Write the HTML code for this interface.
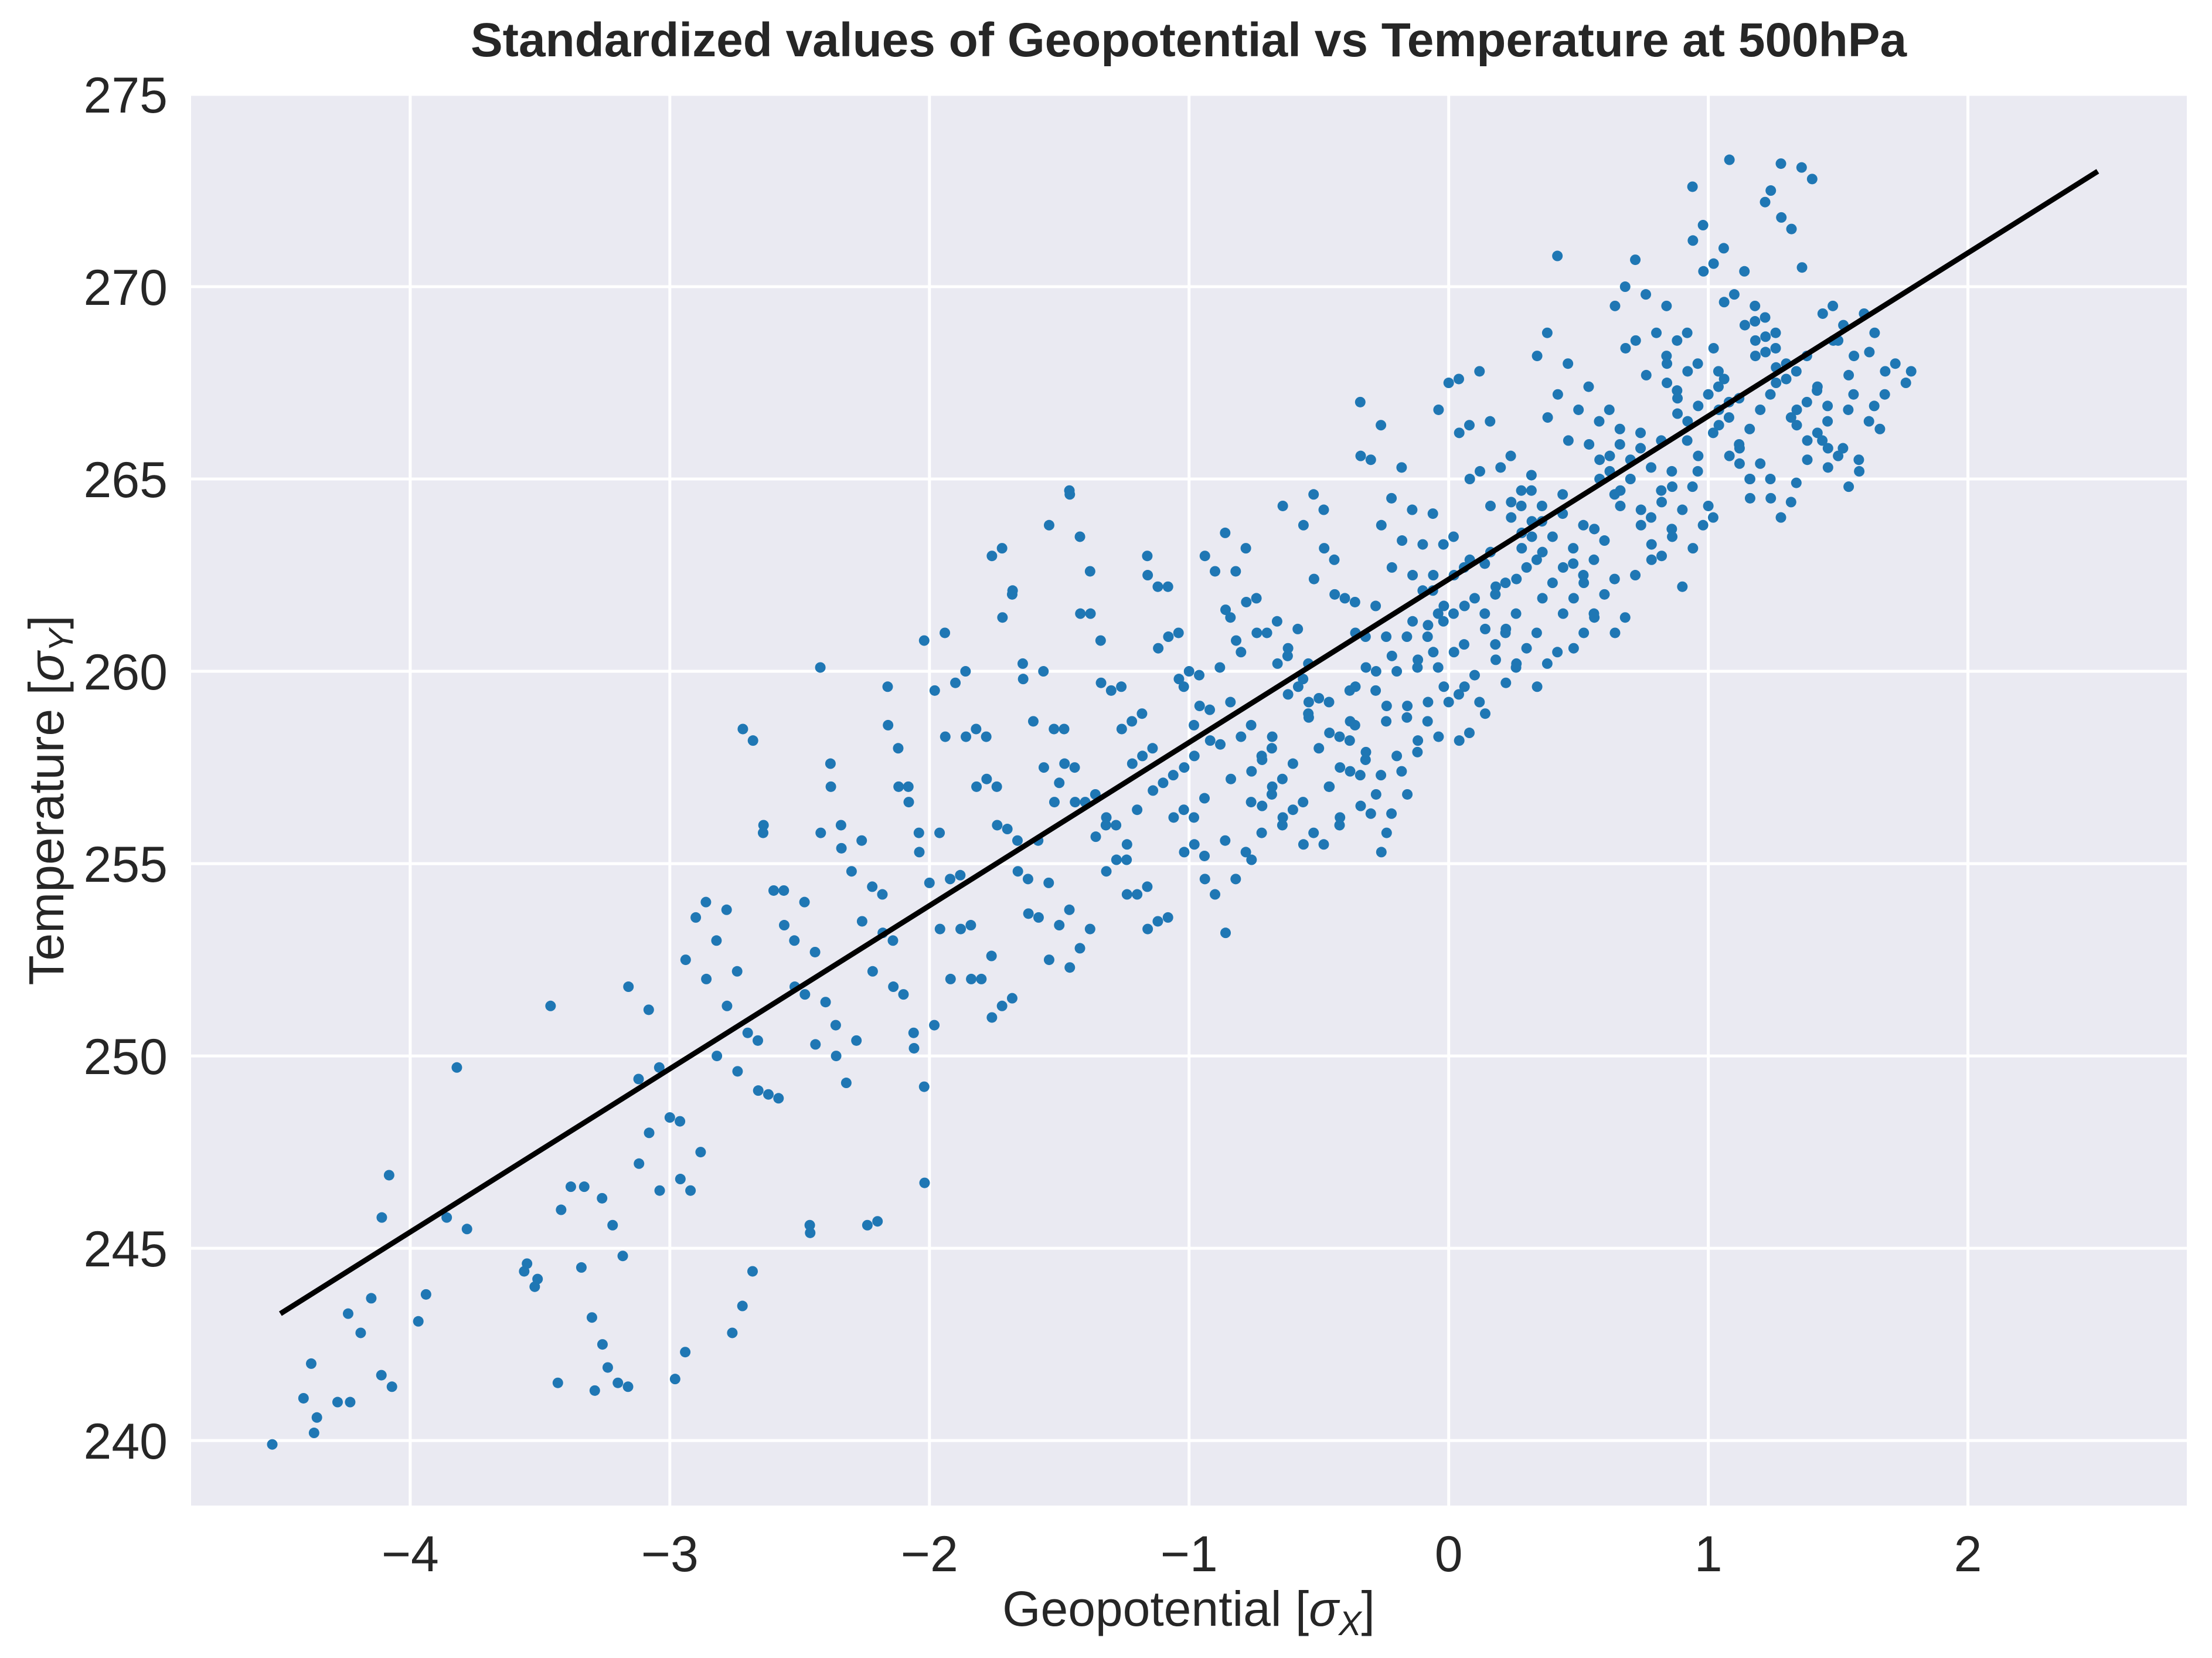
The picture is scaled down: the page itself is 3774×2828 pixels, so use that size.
<!DOCTYPE html>
<html><head><meta charset="utf-8"><style>
html,body{margin:0;padding:0;background:#fff;}
svg{display:block;font-family:"Liberation Sans",Arial,sans-serif;}
</style></head><body>
<svg id="chart" width="3774" height="2828" viewBox="0 0 3774 2828" xmlns="http://www.w3.org/2000/svg">
<rect x="326" y="161" width="3405" height="2407" fill="#eaeaf2"/>
<g id="grid"></g>
<g id="points"></g>
<g id="fit"></g>
<g id="ticks"></g>
<text x="2028" y="96" text-anchor="middle" font-size="82" font-weight="bold" fill="#262626">Standardized values of Geopotential vs Temperature at 500hPa</text>
<text x="2028" y="2773" text-anchor="middle" font-size="84" fill="#262626">Geopotential [<tspan font-style="italic">σ</tspan><tspan font-style="italic" font-size="58" dy="16">X</tspan><tspan dy="-16">]</tspan></text>
<text transform="translate(108,1365) rotate(-90)" text-anchor="middle" font-size="84" fill="#262626">Temperature  [<tspan font-style="italic">σ</tspan><tspan font-style="italic" font-size="58" dy="16">Y</tspan><tspan dy="-16">]</tspan></text>
</svg>
<script>
const xTicks=[-4,-3,-2,-1,0,1,2];
const xTickLabels=["\u22124","\u22123","\u22122","\u22121","0","1","2"];
const yTicks=[240,245,250,255,260,265,270,275];
const yTickLabels=["240","245","250","255","260","265","270","275"];
const fitX=[-4.5,2.5];
const fitY=[243.3,273.0];
const colX=[1.7,1.6,1.5,1.4,1.3,1.2,1.1,1.0,0.9,0.8,0.7,0.6,0.5,0.4,0.3,0.2,0.1,0.0,-0.1,-0.2,-0.3,-0.4,-0.5,-0.6,-0.7,-0.8,-0.9,-1.0,-1.1,-1.2,-1.3,-1.4,-1.5,-1.6,-1.7,-1.8,-1.9,-2.0,-2.1,-2.2,-2.3,-2.4,-2.5,-2.6,-2.7,-2.8,-2.9,-3.0,-3.1,-3.2,-3.3,-3.35,-3.5,-3.55,-3.7,-3.8,-3.9,-4.0,-4.05,-4.15,-4.3,-4.35,-4.4,-4.45];
const colY=[
[266.5,267.5,268,267.2,266.9,267.8],
[265.5,266.8,267.8,268.8,269.3,267.2,265.8,266.3,268.3],
[264.8,265.6,266.5,267.3,268.2,269,269.5,266,265.2,267.7,268.6,266.9],
[264.4,265.3,266.2,267,267.8,268.6,269.3,272.8,273.1,266.6,265.8,267.4,268.2,264.9],
[264,265,266,266.8,267.6,268.4,269.2,270.5,271.5,273.2,267.2,265.5,266.4,268,268.8,272.2],
[264.5,265.4,266.3,267.1,267.9,268.7,269.5,270.4,271.8,272.5,266.8,265,265.9,267.5,268.3,269.1],
[264,265,265.8,266.6,267.4,268.2,269,269.8,271,266.2,264.5,265.4,267,267.8,268.6],
[263.8,264.8,265.6,266.4,267.2,268,268.8,269.6,270.6,271.6,272.6,273.3,266.8,264.3,265.2,266,267.6,268.4],
[263.2,264.2,265.2,266,266.9,267.8,268.6,269.5,270.4,271.2,262.2,263.7,264.7,265.6,266.5,267.3,268.2],
[262.5,263.5,264.4,265.3,266.2,267.1,268,268.8,269.8,270.7,264.8,263,264,265.8,266.7,267.5],
[261.4,262.4,263.3,264.2,265,265.9,266.8,267.7,268.6,270,264.6,262.9,263.8,265.5,266.3],
[261,262,262.9,263.8,264.7,265.6,266.5,267.4,268.4,269.5,263.4,261.5,262.5,264.3,265.2],
[260.5,261.4,262.3,263.2,264.1,265,265.9,266.8,268,270.8,263.7,261,262.8,264.6,265.5],
[260.2,261,261.9,262.7,263.5,264.3,265.1,266,267.2,268.8,262.9,260.6,261.5,262.3,263.9,264.7],
[259.6,260.6,261.5,262.3,263.1,263.9,264.7,265.6,266.6,268.2,262.7,260.1,261,261.9,263.5,264.3],
[259.2,260.2,261.1,262,262.8,263.6,264.4,265.3,266.5,267.8,262.4,259.7,260.7,261.5,263.2,264],
[258.4,259.4,260.3,261.1,261.9,262.7,263.5,264.3,265.2,266.4,267.6,262.2,258.9,259.9,260.7,261.5,263.1],
[258.2,259.2,260.1,260.9,261.7,262.5,263.3,264.1,265,266.2,267.5,261.5,258.7,259.6,260.5,261.3,262.1,262.9],
[257.4,258.3,259.2,260.1,260.9,261.7,262.5,263.3,264.2,265.3,266.8,261.2,257.9,258.8,259.6,260.5,262.1],
[256.3,257.3,258.2,259.1,260,260.9,261.7,262.5,263.4,264.5,266.4,260.3,256.8,257.8,258.7,259.5,261.3],
[255.3,256.3,257.3,258.2,259.1,260,260.9,261.8,262.7,263.8,265.5,267,259.5,255.8,256.8,257.7,258.6,260.4],
[255.5,256.5,257.4,258.3,259.2,260.1,261,261.9,262.9,264.2,265.6,258.7,256,257,257.9,259.6],
[255.8,256.6,257.5,258.4,259.3,260.2,261.1,262,263.2,264.6,259.8,256.2,257,258,258.9],
[255.5,256.4,257.2,258,258.8,259.6,260.4,261.3,262.4,263.8,257.6,256,256.8,259.2],
[255.3,256.2,257,257.8,258.6,259.4,260.2,261,261.9,263.2,264.3,258.3,255.8,256.6,260.6],
[254.6,255.6,256.5,257.4,258.3,259.2,260.1,261,261.8,262.6,263.6,257.7,255.1,260.5,261.4],
[253.2,254.2,255.2,256.2,257.2,258.1,259,259.9,260.8,261.6,262.6,256.7,258.6],
[253.6,254.6,255.5,256.4,257.3,258.2,259.1,260,261,262.2,263,257.8,259.6],
[253.5,254.4,255.3,256.2,257.1,258,258.9,259.8,260.9,262.2,263,257.5],
[253.3,254.2,255.1,256,256.9,257.8,258.7,259.6,260.6,262.5,256.4],
[253.3,254.2,255.1,256,256.8,257.6,258.5,259.5,260.8,262.6,255.5],
[252.8,253.8,254.8,255.7,256.6,257.5,258.5,259.7,261.5,263.5,264.7,256.2],
[252.3,253.4,254.5,255.6,256.6,257.6,258.5,260,261.5,264.6,257.1],
[251.5,252.5,253.6,254.6,255.6,256.6,257.5,258.7,260.2,262,263.8],
[251.3,252.6,253.7,254.8,255.9,257,258.3,259.8,262.1,263.2],
[251,252,253.4,254.7,256,257.2,258.5,260,261.4,263],
[250.8,252,253.3,254.6,255.8,257,258.3,259.7,261],
[249.2,250.6,252,253.3,254.5,255.8,257,258.3,259.5,260.8],
[250.2,251.6,253,254.2,255.3,256.6,258,259.6,246.7],
[250.4,251.8,253.2,254.4,255.6,257,258.6,245.7],
[249.3,250.8,252.2,253.5,254.8,256,257.6,245.6],
[250,251.4,252.7,254,255.4,257,260.1,245.6],
[248.9,250.3,251.6,253,254.3,255.8,245.4],
[249,250.4,251.8,253.4,254.3,255.8,244.4],
[249.1,250.6,252.2,253.8,256,258.2,243.5],
[247.5,249.6,251.3,253,254,258.5,242.8],
[246.5,248.3,250,252,253.6,242.3],
[246.8,248.4,249.7,251.2,252.5,241.6],
[244.8,246.5,248,249.4,241.4],
[245.6,246.3,247.2,251.8,241.5],
[242.5,243.2,244.5,246.6,241.9],
[241.5,241.3,246.6],
[244,244.4,246,251.3],
[244.2,244.6],
[245.5],
[249.7],
[245.8],
[246.9,243.8],
[241.4,241.7,243.1],
[245.8,243.7,242.8,241],
[242,243.3,241],
[240.2,241.1],
[240.6],
[239.9]
];
const NS="http://www.w3.org/2000/svg";
const X0=326,X1=3731,Y0=161,Y1=2568;
const xMin=-4.844,xMax=2.843,yMin=238.31,yMax=275.0;
function sx(v){return X0+(v-xMin)/(xMax-xMin)*(X1-X0);}
function sy(v){return Y1-(v-yMin)/(yMax-yMin)*(Y1-Y0);}
const grid=document.getElementById('grid');
const ticks=document.getElementById('ticks');
xTicks.forEach((t,i)=>{
  const l=document.createElementNS(NS,'line');
  
  
  l.setAttribute('x1',sx(t));l.setAttribute('x2',sx(t));l.setAttribute('y1',Y0);l.setAttribute('y2',Y1);
  l.setAttribute('stroke','#fff');l.setAttribute('stroke-width','5');
  grid.appendChild(l);
  const tx=document.createElementNS(NS,'text');
  
  
  tx.setAttribute('x',sx(t));tx.setAttribute('y',2680);
  tx.setAttribute('text-anchor','middle');tx.setAttribute('font-size','86');tx.setAttribute('fill','#262626');
  tx.textContent=xTickLabels[i];
  ticks.appendChild(tx);
});
yTicks.forEach((t,i)=>{
  const l=document.createElementNS(NS,'line');
  
  
  l.setAttribute('x1',X0);l.setAttribute('x2',X1);l.setAttribute('y1',sy(t));l.setAttribute('y2',sy(t));
  l.setAttribute('stroke','#fff');l.setAttribute('stroke-width','5');
  grid.appendChild(l);
  const tx=document.createElementNS(NS,'text');
  
  
  tx.setAttribute('x',286);tx.setAttribute('y',sy(t)+31);
  tx.setAttribute('text-anchor','end');tx.setAttribute('font-size','86');tx.setAttribute('fill','#262626');
  tx.textContent=yTickLabels[i];
  ticks.appendChild(tx);
});
const pts=document.getElementById('points');
colX.forEach((x,i)=>{
  colY[i].forEach((y,j)=>{
    const c=document.createElementNS(NS,'circle');
    
    
    const dx=(((j*7+i*3)%9)-4)*9;
    c.setAttribute('cx',sx(x)+dx);c.setAttribute('cy',sy(y));c.setAttribute('r',9);
    c.setAttribute('fill','#1f77b4');
    pts.appendChild(c);
  });
});
const fl=document.createElementNS(NS,'line');


fl.setAttribute('x1',sx(fitX[0]));fl.setAttribute('y1',sy(fitY[0]));
fl.setAttribute('x2',sx(fitX[1]));fl.setAttribute('y2',sy(fitY[1]));
fl.setAttribute('stroke','#000');fl.setAttribute('stroke-width','9');
document.getElementById('fit').appendChild(fl);
</script>
</body></html>
